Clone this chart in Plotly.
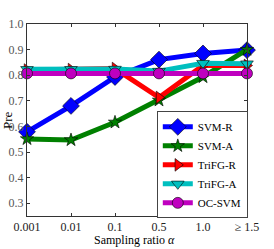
import plotly.graph_objects as go

categories = ["0.001", "0.01", "0.1", "0.5", "1.0", "≥ 1.5"]
svm_r = [0.579, 0.680, 0.793, 0.861, 0.885, 0.898]
svm_a = [0.551, 0.547, 0.616, 0.702, 0.793, 0.900]
trifg_r = [0.820, 0.822, 0.826, 0.713, 0.838, 0.838]
trifg_a = [0.823, 0.823, 0.824, 0.816, 0.847, 0.845]
oc_svm = [0.807, 0.807, 0.807, 0.807, 0.807, 0.807]

series = [
    ("SVM-R", svm_r, "#0000ff", "diamond", 13),
    ("SVM-A", svm_a, "#008000", "star", 10),
    ("TriFG-R", trifg_r, "#ff0000", "triangle-right", 11),
    ("TriFG-A", trifg_a, "#00bfbf", "triangle-down", 11),
    ("OC-SVM", oc_svm, "#bf00bf", "circle", 11),
]

xs = list(range(len(categories)))
fig = go.Figure()
for name, vals, color, sym, size in series:
    fig.add_trace(go.Scatter(
        x=xs, y=vals, name=name, mode="lines+markers",
        line=dict(color=color, width=5),
        marker=dict(symbol=sym, size=size, color=color, line=dict(color="black", width=0.6)),
        cliponaxis=False,
    ))

font = "Liberation Serif"
fig.update_layout(
    width=274, height=249,
    margin=dict(l=27, r=27, t=24, b=33, autoexpand=False),
    paper_bgcolor="white", plot_bgcolor="white",
    showlegend=True,
    font=dict(family=font, size=12, color="black"),
    legend=dict(
        x=0.59, y=0.545, xanchor="left", yanchor="top",
        bordercolor="#444", borderwidth=1, bgcolor="white",
        font=dict(family=font, size=11, color="black"),
        itemwidth=30, tracegroupgap=0,
    ),
    xaxis=dict(
        tickmode="array", tickvals=xs, ticktext=categories,
        range=[0, 5], showgrid=False, zeroline=False, automargin=False,
        showline=True, linecolor="#333", linewidth=1, mirror="ticks",
        ticks="inside", ticklen=3, tickcolor="#333",
        tickfont=dict(family=font, size=12, color="#222"),
    ),
    yaxis=dict(
        range=[0.25, 1.0], tickvals=[0.3, 0.4, 0.5, 0.6, 0.7, 0.8, 0.9, 1.0],
        ticktext=["0.3", "0.4", "0.5", "0.6", "0.7", "0.8", "0.9", "1.0"],
        showgrid=False, zeroline=False, automargin=False,
        showline=True, linecolor="#333", linewidth=1, mirror="ticks",
        ticks="inside", ticklen=3, tickcolor="#333",
        tickfont=dict(family=font, size=12, color="#555"),
    ),
    annotations=[
        dict(text="Sampling ratio <i>α</i>", xref="paper", yref="paper", x=0.5, y=0,
             xanchor="center", yanchor="top", yshift=-15, xshift=-3, showarrow=False,
             font=dict(family=font, size=12, color="black")),
        dict(text="Pre", xref="paper", yref="paper", x=0, y=0.5, textangle=-90,
             xanchor="center", yanchor="middle", xshift=-20, showarrow=False,
             font=dict(family=font, size=13, color="black")),
    ],
)
fig.write_html("out.html", config={"displayModeBar": False},
               post_script="document.body.style.margin='0';document.body.style.overflow='hidden';")
